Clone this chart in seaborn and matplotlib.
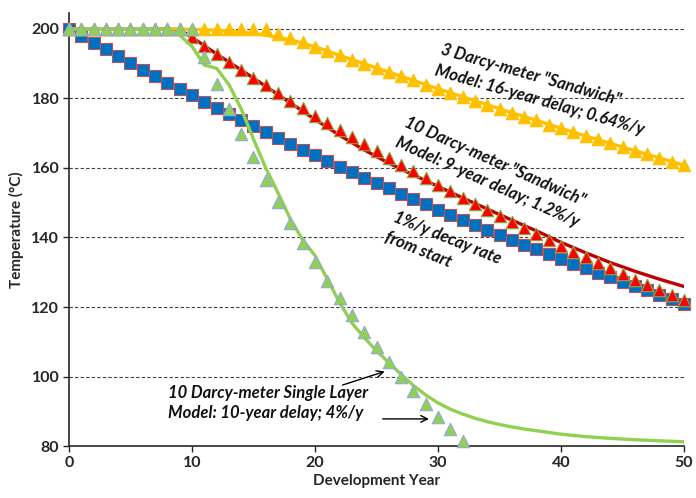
import numpy as np
import pandas as pd
import matplotlib.pyplot as plt
import seaborn as sns

# Data
years = list(range(0, 51))

# 1%/y decay rate from start (blue squares)
decay_1pct = [200.0, 198.0, 196.0, 194.1, 192.1, 190.2, 188.3, 186.4, 184.6, 182.8,
              180.9, 179.1, 177.3, 175.5, 173.8, 172.0, 170.3, 168.6, 166.9, 165.3,
              163.6, 162.0, 160.4, 158.8, 157.2, 155.6, 154.1, 152.5, 151.0, 149.5,
              148.0, 146.5, 145.0, 143.6, 142.2, 140.7, 139.3, 137.9, 136.6, 135.2,
              133.9, 132.5, 131.2, 129.9, 128.6, 127.3, 126.0, 124.8, 123.5, 122.3,
              121.0]

# 10 Darcy-meter "Sandwich" (red triangles)
sandwich_10 = [200.0] * 10 + [197.6, 195.2, 192.9, 190.6, 188.3, 186.0, 183.8, 181.6,
                              179.4, 177.3, 175.1, 173.0, 171.0, 168.9, 166.9, 164.9,
                              162.9, 160.9, 159.0, 157.1, 155.2, 153.3, 151.5, 149.7,
                              147.9, 146.1, 144.4, 142.6, 140.9, 139.2, 137.6, 135.9,
                              134.3, 132.7, 131.1, 129.5, 127.9, 126.4, 124.9, 123.4,
                              121.9]

# 3 Darcy-meter "Sandwich" (yellow triangles)
sandwich_3 = [200.0] * 17 + [198.7, 197.4, 196.2, 194.9, 193.7, 192.4, 191.2, 190.0,
                             188.8, 187.6, 186.4, 185.2, 184.0, 182.8, 181.6, 180.5,
                             179.3, 178.2, 177.0, 175.9, 174.8, 173.7, 172.5, 171.4,
                             170.3, 169.2, 168.2, 167.1, 166.0, 165.0, 163.9, 162.9,
                             161.8, 160.8]

# 10 Darcy-meter single layer (green triangles, shown down to 80 °C)
single_years = list(range(0, 33))
single_10 = [200.0] * 11 + [192.0, 184.3, 176.9, 169.9, 163.1, 156.6, 150.3, 144.3,
                            138.5, 133.0, 127.6, 122.5, 117.6, 112.9, 108.4, 104.1,
                            99.9, 95.9, 92.1, 88.4, 84.9, 81.5]

# model curves
red_model_years = [0, 2, 4, 6, 8, 9, 10, 12, 14, 16, 18, 20, 22, 24, 26, 28, 30,
                   32, 34, 36, 38, 40, 42, 44, 46, 48, 50]
red_model = [200.0, 200.0, 200.0, 200.0, 200.0, 199.8, 197.6, 192.8, 188.2, 183.5,
             178.7, 174.0, 169.4, 165.2, 161.4, 158.0, 154.7, 151.4, 148.2, 145.0,
             141.9, 138.6, 135.6, 132.8, 130.3, 128.0, 125.9]

yellow_model_years = [0, 5, 9, 10, 11, 12, 13, 14, 15, 16, 17, 18, 19, 20, 21, 22,
                      24, 26, 28, 30, 32, 34, 36, 38, 40, 42, 44, 46, 48, 50]
yellow_model = [200.0, 200.0, 200.0, 199.9, 199.8, 199.6, 199.4, 199.1, 198.7, 198.2,
                197.6, 196.9, 195.9, 194.9, 193.7, 192.4, 190.0, 187.6, 185.2, 182.8,
                180.5, 178.2, 175.9, 173.7, 171.4, 169.2, 167.1, 165.0, 162.9, 160.8]

green_model_years = [0, 8, 9, 10, 11, 12, 13, 14, 15, 16, 17, 18, 19, 20, 21, 22,
                     23, 24, 25, 26, 27, 28, 29, 30, 31, 32, 33, 34, 35, 36, 37, 38,
                     39, 40, 42, 44, 46, 48, 50]
green_model = [200.0, 200.0, 198.2, 195.0, 189.6, 188.7, 184.0, 177.0, 168.3, 160.0,
               152.8, 145.3, 139.3, 134.8, 128.0, 121.3, 115.4, 111.2, 107.4, 104.0,
               100.6, 97.4, 94.7, 92.4, 90.6, 89.2, 88.0, 87.0, 86.2, 85.5, 84.9,
               84.4, 83.9, 83.4, 82.7, 82.2, 81.8, 81.5, 81.2]

x_ticks = [0, 10, 20, 30, 40, 50]
y_ticks = [80, 100, 120, 140, 160, 180, 200]

sns.set_theme(style='white')
plt.rcParams['font.family'] = ['Lato', 'DejaVu Sans']

fig = plt.figure(figsize=(6.96, 4.98), dpi=100)
ax = fig.add_axes([0.0991, 0.1044, 0.8837, 0.8695])

for y in y_ticks[1:]:
    ax.axhline(y, color='#404040', lw=0.8, ls=(0, (3, 2)), zorder=1)

sq = 66
tri = 80
sns.scatterplot(x=years, y=decay_1pct, marker='s', s=sq, color='#0070C0',
                edgecolor='#B9525A', linewidth=0.8, ax=ax, zorder=3, clip_on=False)
sns.lineplot(x=red_model_years, y=red_model, color='#C00000', lw=2.4, ax=ax, zorder=4)
sns.scatterplot(x=years, y=sandwich_10, marker='^', s=tri, color='#FF0000',
                edgecolor='#8FA84A', linewidth=0.8, ax=ax, zorder=5, clip_on=False)
sns.lineplot(x=yellow_model_years, y=yellow_model, color='#FFC000', lw=2.4, ax=ax, zorder=6)
sns.scatterplot(x=years, y=sandwich_3, marker='^', s=tri, color='#FFC000',
                edgecolor='#FFC000', linewidth=0.8, ax=ax, zorder=7, clip_on=False)
sns.lineplot(x=green_model_years, y=green_model, color='#92D050', lw=2.4, ax=ax, zorder=8)
sns.scatterplot(x=single_years, y=single_10, marker='^', s=tri, color='#92D050',
                edgecolor='#8EA9DB', linewidth=0.8, ax=ax, zorder=9, clip_on=False)

ax.set_xlim(0, 50)
ax.set_ylim(80, 204.6)
ax.set_xticks(x_ticks)
ax.set_yticks(y_ticks)
ax.tick_params(axis='both', which='major', direction='out', length=4, width=1,
               color='#262626', labelsize=11.5, pad=3, bottom=True, left=True)
for lab in ax.get_xticklabels() + ax.get_yticklabels():
    lab.set_fontweight('bold')
ax.set_xlabel('Development Year', fontsize=11, fontweight='bold', labelpad=3)
ax.set_ylabel('Temperature (°C)', fontsize=11, fontweight='bold', labelpad=5)
for side in ['top', 'right']:
    ax.spines[side].set_visible(False)
for side in ['left', 'bottom']:
    ax.spines[side].set_color('#262626')
    ax.spines[side].set_linewidth(1.2)

txt = dict(fontsize=12, fontweight='bold', fontstyle='italic', color='#111111',
           ha='center', va='center', rotation_mode='anchor', multialignment='left',
           linespacing=1.45, zorder=10)
ax.text(38.46, 182.4, '3 Darcy-meter "Sandwich"\nModel: 16-year delay; 0.64%/y',
        rotation=-16, **txt)
ax.text(34.39, 158.8, '10 Darcy-meter "Sandwich"\nModel: 9-year delay; 1.2%/y',
        rotation=-24, **txt)
ax.text(30.41, 137.0, '1%/y decay rate\nfrom start', rotation=-22, **txt)
ax.text(8.07, 92.3, '10 Darcy-meter Single Layer\nModel: 10-year delay; 4%/y',
        fontsize=12, fontweight='bold', fontstyle='italic', color='#111111',
        ha='left', va='center', multialignment='left', linespacing=1.3, zorder=10)

arrow = dict(arrowstyle='->', color='black', lw=1.0)
ax.annotate('', xy=(25.88, 101.7), xytext=(22.03, 97.3), arrowprops=arrow)
ax.annotate('', xy=(29.49, 87.8), xytext=(25.28, 87.8), arrowprops=arrow)

fig.savefig('out.png', dpi=100)
